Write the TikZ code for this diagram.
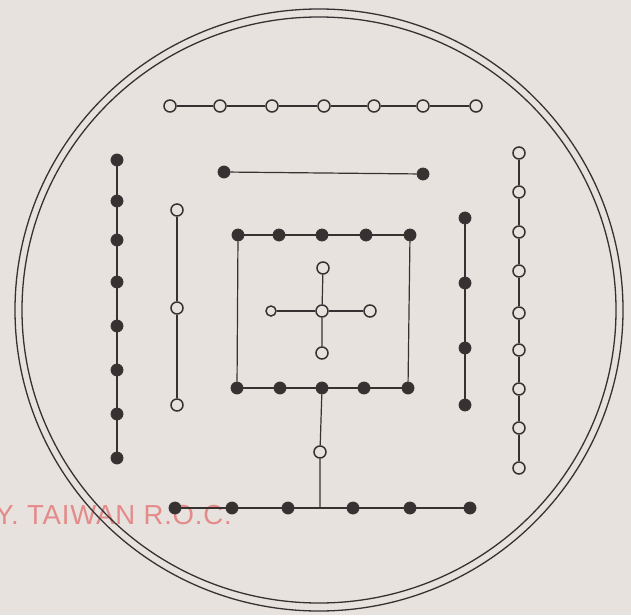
\documentclass[tikz,border=0pt]{standalone}
\usepackage{fontspec}
\setsansfont{Liberation Sans}
\definecolor{paper}{RGB}{231,226,222}
\definecolor{ink}{RGB}{55,50,50}
\definecolor{stamp}{RGB}{228,138,138}

\begin{document}
\begin{tikzpicture}[x=1pt, y=-1pt, thick,
    yang/.style={circle, draw=ink, fill=paper, line width=1.5pt, inner sep=0pt, minimum size=12pt},
    yin/.style={circle, draw=ink, fill=ink, inner sep=0pt, minimum size=12pt},
    link/.style={draw=ink, line width=1.2pt}]
        % Paper
        \fill[paper] (0,0) rectangle (631,615);
        \useasboundingbox (0,0) rectangle (631,615);

        % Stamp text on the page
        \node[anchor=base west, inner sep=0pt, text=stamp,
              font=\sffamily\fontsize{27.5}{27.5}\selectfont\addfontfeature{LetterSpace=3}] (S) at (-5,524) {Y. TAIWAN R.O.C.};

        % Double ring
        \draw[ink, line width=1.3pt] (319,310) ellipse [x radius=304, y radius=301];
        \draw[ink, line width=1.3pt] (319,310) ellipse [x radius=297, y radius=293];

        % Top: seven open, two black
        \foreach \x [count=\i] in {170,220,272,324,374,423,476}
          \node[yang] (T\i) at (\x,106) {};
        \foreach \i [count=\j from 2] in {1,...,6}
          \draw[link] (T\i) -- (T\j);
        \node[yin] (B1) at (224,172) {};
        \node[yin] (B2) at (423,174) {};
        \draw[link] (B1) -- (B2);

        % Left: eight black, three open
        \foreach \y [count=\i] in {160,201,240,282,326,370,414,458}
          \node[yin] (L\i) at (117,\y) {};
        \foreach \i [count=\j from 2] in {1,...,7}
          \draw[link] (L\i) -- (L\j);
        \foreach \y [count=\i] in {210,308,405}
          \node[yang] (M\i) at (177,\y) {};
        \draw[link] (M1) -- (M2);
        \draw[link] (M2) -- (M3);

        % Right: four black, nine open
        \foreach \y [count=\i] in {218,283,348,405}
          \node[yin] (K\i) at (465,\y) {};
        \foreach \i [count=\j from 2] in {1,...,3}
          \draw[link] (K\i) -- (K\j);
        \foreach \y [count=\i] in {153,192,232,271,313,350,389,428,468}
          \node[yang] (R\i) at (519,\y) {};
        \foreach \i [count=\j from 2] in {1,...,8}
          \draw[link] (R\i) -- (R\j);

        % Centre: five open inside ten black
        \node[yang] (C) at (322,311) {};
        \node[yang] (CN) at (323,268) {};
        \node[yang, minimum size=10pt] (CW) at (271,311) {};
        \node[yang] (CE) at (370,311) {};
        \node[yang] (CS) at (322,353) {};
        \draw[link] (CN) -- (C) -- (CS);
        \draw[link] (CW) -- (C) -- (CE);
        \foreach \x [count=\i] in {238,279,322,366,410}
          \node[yin] (Q\i) at (\x,235) {};
        \foreach \x [count=\i] in {237,280,322,364,408}
          \node[yin] (P\i) at (\x,388) {};
        \foreach \i [count=\j from 2] in {1,...,4} {
          \draw[link] (Q\i) -- (Q\j);
          \draw[link] (P\i) -- (P\j);
        }
        \draw[link] (Q1) -- (P1);
        \draw[link] (Q5) -- (P5);

        % Bottom: one open, six black
        \node[yang] (D) at (320,452) {};
        \foreach \x [count=\i] in {175,232,288,353,410,470}
          \node[yin] (W\i) at (\x,508) {};
        \foreach \i [count=\j from 2] in {1,...,5}
          \draw[link] (W\i) -- (W\j);
        \coordinate (J) at (320,508);
        \draw[link] (P3) -- (D) -- (J);
      \end{tikzpicture}
\end{document}
